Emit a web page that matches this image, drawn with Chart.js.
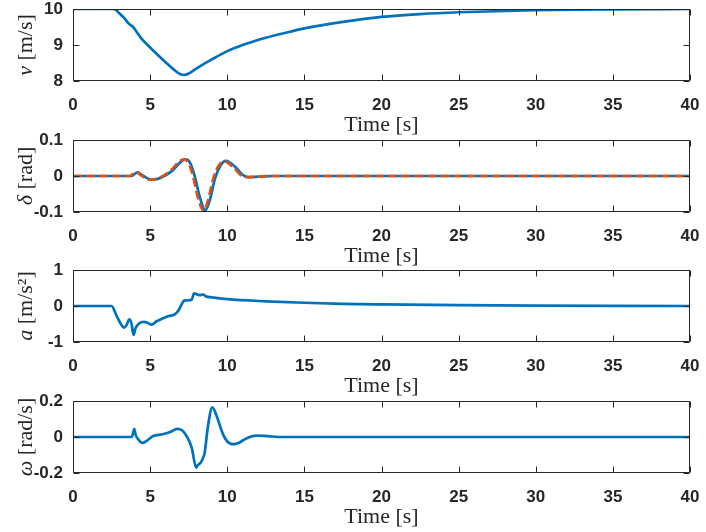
<!DOCTYPE html>
<html><head><meta charset="utf-8">
<script src="https://cdn.jsdelivr.net/npm/chart.js@4"></script>
<style>
html,body{margin:0;padding:0;background:#fff;}
#wrap{position:relative;width:706px;height:532px;overflow:hidden;background:#fff;}
canvas{position:absolute;left:0;}
</style></head><body>
<div id="wrap">
<canvas id="c1" width="706" height="140" style="top:0px"></canvas>
<canvas id="c2" width="706" height="140" style="top:131px"></canvas>
<canvas id="c3" width="706" height="140" style="top:261px"></canvas>
<canvas id="c4" width="706" height="140" style="top:392px"></canvas>
</div>
<script>
// ---- data ----
const xTicks = [0, 5, 10, 15, 20, 25, 30, 35, 40];

const vTime = [0, 2.6, 2.8, 3.0, 3.3, 3.6, 3.9, 4.1, 4.4, 5.0, 5.5, 6.0, 6.5, 7.0, 7.2, 7.5, 7.8, 8.2, 9.0, 10, 11, 12.5, 14, 15, 17.5, 20, 22.5, 25, 30, 35, 40];
const vVal  = [10, 10, 9.97, 9.88, 9.76, 9.6, 9.5, 9.38, 9.2, 8.93, 8.72, 8.52, 8.33, 8.18, 8.17, 8.21, 8.29, 8.4, 8.6, 8.83, 9.0, 9.2, 9.36, 9.46, 9.64, 9.78, 9.86, 9.91, 9.97, 9.99, 10];
const vTicks = [8, 9, 10];

const dTime1 = [0, 3.8, 4.0, 4.2, 4.45, 4.8, 5.1, 5.5, 6.0, 6.5, 7.0, 7.3, 7.6, 7.9, 8.2, 8.58, 8.85, 9.2, 9.55, 9.9, 10.5, 11.0, 11.35, 12.0, 13, 40];
const dVal1  = [0, 0, 0.006, 0.01, 0.004, -0.006, -0.01, -0.008, 0.002, 0.017, 0.04, 0.046, 0.036, -0.002, -0.055, -0.095, -0.07, -0.008, 0.028, 0.042, 0.026, 0.003, -0.003, -0.002, 0, 0];
const dTime2 = [0, 3.7, 3.9, 4.1, 4.35, 4.7, 5.0, 5.4, 5.9, 6.4, 6.9, 7.2, 7.5, 7.8, 8.1, 8.48, 8.75, 9.1, 9.45, 9.8, 10.4, 10.9, 11.25, 11.9, 13, 40];
const dVal2  = [0, 0, 0.007, 0.011, 0.004, -0.006, -0.011, -0.008, 0.002, 0.018, 0.041, 0.046, 0.035, -0.004, -0.06, -0.097, -0.068, -0.006, 0.029, 0.041, 0.024, 0.002, -0.003, -0.002, 0, 0];
const dTicks = [-0.1, 0, 0.1];

const aTime = [0, 2.5, 2.8, 3.1, 3.3, 3.45, 3.65, 3.8, 3.92, 4.05, 4.3, 4.6, 4.8, 5.1, 5.4, 5.8, 6.2, 6.6, 6.85, 7.05, 7.2, 7.5, 7.7, 7.85, 8.0, 8.2, 8.45, 8.6, 9.0, 10, 12.5, 15, 17.5, 20, 25, 30, 35, 40];
const aVal  = [0, 0, -0.25, -0.5, -0.6, -0.55, -0.37, -0.5, -0.8, -0.62, -0.48, -0.44, -0.46, -0.52, -0.43, -0.35, -0.28, -0.23, -0.12, 0.05, 0.15, 0.16, 0.18, 0.35, 0.33, 0.3, 0.32, 0.27, 0.24, 0.19, 0.13, 0.09, 0.06, 0.045, 0.025, 0.012, 0.005, 0];
const aTicks = [-1, 0, 1];

const wTime = [0, 3.8, 3.92, 3.97, 4.05, 4.2, 4.5, 4.8, 5.2, 5.8, 6.3, 6.75, 7.1, 7.4, 7.7, 7.98, 8.1, 8.3, 8.5, 8.55, 8.75, 9.03, 9.3, 9.7, 10.0, 10.4, 10.8, 11.3, 11.9, 12.6, 13.5, 40];
const wVal  = [0, 0, 0.03, 0.045, 0.015, -0.01, -0.033, -0.02, 0.005, 0.015, 0.028, 0.045, 0.035, 0.0, -0.06, -0.17, -0.155, -0.14, -0.1, -0.08, 0.06, 0.165, 0.12, 0.02, -0.025, -0.04, -0.03, -0.005, 0.008, 0.005, 0, 0];
const wTicks = [-0.2, 0, 0.2];

// ---- styling ----
const BLUE = '#0072BD', ORANGE = '#D95319', AX = '#262626';
const TICKFONT = {family: '"Liberation Sans", Arial, sans-serif', size: 17, weight: 'bold'};
const SERIF = '"Liberation Serif", "DejaVu Serif", serif';

function pts(t, y) { return t.map((x, i) => ({x: x, y: y[i]})); }

const matlabAxes = {
  id: 'matlabAxes',
  afterDraw(chart, args, opts) {
    const ctx = chart.ctx, a = chart.chartArea;
    const xs = chart.scales.x, ys = chart.scales.y;
    ctx.save();
    ctx.strokeStyle = AX;
    ctx.lineWidth = 1;
    const L = Math.round(a.left) + 0.5, R = Math.round(a.right) - 0.5;
    const T = Math.round(a.top) + 0.5, B = Math.round(a.bottom) - 0.5;
    ctx.beginPath();
    ctx.rect(L, T, R - L, B - T);
    const tl = 6;
    xs.ticks.forEach(tk => {
      const px = Math.round(xs.getPixelForValue(tk.value)) + 0.5;
      ctx.moveTo(px, B); ctx.lineTo(px, B - tl);
      ctx.moveTo(px, T); ctx.lineTo(px, T + tl);
    });
    ys.ticks.forEach(tk => {
      const py = Math.round(ys.getPixelForValue(tk.value)) + 0.5;
      ctx.moveTo(L, py); ctx.lineTo(L + tl, py);
      ctx.moveTo(R, py); ctx.lineTo(R - tl, py);
    });
    ctx.stroke();
    // y label: italic symbol + roman units
    const sym = opts.sym, unit = opts.unit;
    ctx.fillStyle = AX;
    ctx.font = 'italic 22px ' + SERIF;
    const w1 = ctx.measureText(sym).width;
    ctx.font = '22px ' + SERIF;
    const w2 = ctx.measureText(unit).width;
    const cy = (a.top + a.bottom) / 2;
    ctx.translate(32, cy);
    ctx.rotate(-Math.PI / 2);
    ctx.textBaseline = 'alphabetic';
    ctx.textAlign = 'left';
    let x0 = -(w1 + w2) / 2;
    ctx.font = 'italic 22px ' + SERIF;
    ctx.fillText(sym, x0, 0);
    ctx.font = '22px ' + SERIF;
    ctx.fillText(unit, x0 + w1, 0);
    ctx.restore();
  }
};

function makeChart(id, datasets, yMin, yMax, yTicks, sym, unit) {
  return new Chart(document.getElementById(id), {
    type: 'line',
    data: {datasets: datasets},
    plugins: [matlabAxes],
    options: {
      responsive: false,
      animation: false,
      devicePixelRatio: 1,
      layout: {padding: {top: 9, right: 16, left: 0, bottom: 2}},
      plugins: {legend: {display: false}, tooltip: {enabled: false}, matlabAxes: {sym: sym, unit: unit}},
      elements: {point: {radius: 0}},
      scales: {
        x: {
          type: 'linear', min: 0, max: 40,
          afterBuildTicks: s => { s.ticks = xTicks.map(v => ({value: v})); },
          afterFit: s => { s.height = 57; s.paddingLeft = 0; s.paddingRight = 0; },
          grid: {display: false, drawTicks: false},
          border: {display: false},
          ticks: {font: TICKFONT, color: AX, padding: 14, maxRotation: 0, autoSkip: false},
          title: {display: true, text: 'Time [s]', color: AX, font: {family: SERIF, size: 22}, padding: {top: 0, bottom: 0}}
        },
        y: {
          type: 'linear', min: yMin, max: yMax,
          afterBuildTicks: s => { s.ticks = yTicks.map(v => ({value: v})); },
          afterFit: s => { s.width = 73; s.paddingTop = 0; s.paddingBottom = 0; },
          grid: {display: false, drawTicks: false},
          border: {display: false},
          ticks: {font: TICKFONT, color: AX, padding: 10, autoSkip: false, callback: v => String(v)}
        }
      }
    }
  });
}

function line(t, y, color, extra) {
  return Object.assign({data: pts(t, y), borderColor: color, borderWidth: 2.7, fill: false,
    cubicInterpolationMode: 'monotone', pointRadius: 0, borderJoinStyle: 'round', borderCapStyle: 'butt'}, extra || {});
}

makeChart('c1', [line(vTime, vVal, BLUE)], 8, 10, vTicks, 'v', ' [m/s]');
makeChart('c2', [line(dTime2, dVal2, ORANGE, {borderDash: [9, 4], order: 0}), line(dTime1, dVal1, BLUE, {order: 1})], -0.1, 0.1, dTicks, 'δ', ' [rad]');
makeChart('c3', [line(aTime, aVal, BLUE)], -1, 1, aTicks, 'a', ' [m/s²]');
makeChart('c4', [line(wTime, wVal, BLUE)], -0.2, 0.2, wTicks, 'ω', ' [rad/s]');
</script>
</body></html>
